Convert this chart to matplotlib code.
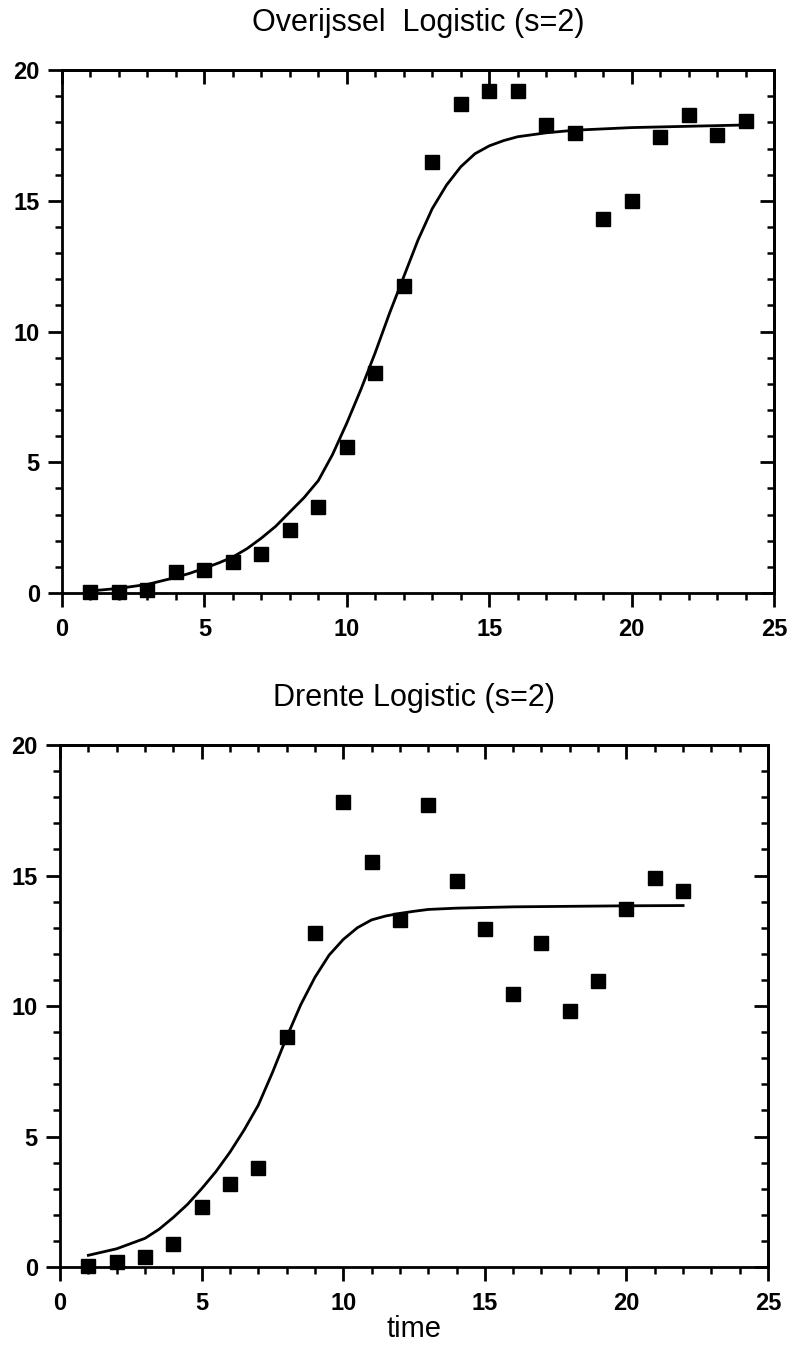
import matplotlib
matplotlib.use("Agg")
import matplotlib.pyplot as plt
from matplotlib.ticker import MultipleLocator

plt.rcParams['font.family'] = ['Liberation Sans', 'DejaVu Sans']

# ---- Overijssel data ----
ov_t = list(range(1, 25))
ov_y = [0.05, 0.05, 0.1, 0.8, 0.9, 1.2, 1.5, 2.4, 3.3, 5.6, 8.4, 11.75,
        16.5, 18.7, 19.2, 19.2, 17.9, 17.6, 14.3, 15.0, 17.45, 18.3, 17.5, 18.05]
ov_fit_t = [1, 2, 3, 4, 4.5, 5, 5.5, 6, 6.5, 7, 7.5, 8, 8.5, 9, 9.5, 10, 10.5,
            11, 11.5, 12, 12.5, 13, 13.5, 14, 14.5, 15, 15.5, 16, 17, 18, 20, 22, 24]
ov_fit_y = [0.08, 0.18, 0.33, 0.6, 0.76, 0.95, 1.15, 1.38, 1.7, 2.1, 2.55, 3.1,
            3.65, 4.3, 5.3, 6.5, 7.8, 9.2, 10.7, 12.1, 13.5, 14.7, 15.6, 16.3,
            16.8, 17.1, 17.3, 17.45, 17.6, 17.7, 17.8, 17.85, 17.9]

# ---- Drente data ----
dr_t = list(range(1, 23))
dr_y = [0.05, 0.2, 0.4, 0.9, 2.3, 3.2, 3.8, 8.8, 12.8, 17.8, 15.5, 13.3,
        17.7, 14.8, 12.95, 10.45, 12.4, 9.8, 10.95, 13.7, 14.9, 14.4]
dr_fit_t = [1, 2, 3, 3.5, 4, 4.5, 5, 5.5, 6, 6.5, 7, 7.5, 8, 8.5, 9, 9.5, 10,
            10.5, 11, 11.5, 12, 12.5, 13, 14, 16, 18, 20, 22]
dr_fit_y = [0.45, 0.7, 1.1, 1.45, 1.9, 2.4, 3.0, 3.65, 4.4, 5.25, 6.2, 7.45,
            8.8, 10.05, 11.1, 11.95, 12.55, 13.0, 13.3, 13.45, 13.55, 13.63,
            13.7, 13.75, 13.8, 13.82, 13.84, 13.85]

titles = ["Overijssel  Logistic (s=2)", "Drente Logistic (s=2)"]
xticks = [0, 5, 10, 15, 20, 25]
yticks = [0, 5, 10, 15, 20]

fig = plt.figure(figsize=(7.95, 13.63), dpi=100)
ax1 = fig.add_axes([0.078, 0.5649, 0.8956, 0.3837])
ax2 = fig.add_axes([0.0755, 0.0704, 0.8906, 0.383])

def style(ax, title):
    ax.set_xlim(0, 25)
    ax.set_ylim(0, 20)
    ax.set_xticks(xticks)
    ax.set_yticks(yticks)
    ax.set_xticklabels([str(v) for v in xticks], fontweight='bold', fontsize=17)
    ax.set_yticklabels([str(v) for v in yticks], fontweight='bold', fontsize=17)
    ax.xaxis.set_minor_locator(MultipleLocator(1))
    ax.yaxis.set_minor_locator(MultipleLocator(1))
    ax.tick_params(which='major', direction='out', length=10, width=2, pad=6)
    ax.tick_params(which='minor', direction='out', length=5, width=1.8)
    ax.tick_params(axis='x', which='major', pad=8)
    for s in ax.spines.values():
        s.set_linewidth(2)
    ax.set_title(title, fontsize=22, pad=28)
    # inward ticks on top and right
    top = ax.secondary_xaxis('top')
    top.set_xticks(xticks)
    top.xaxis.set_minor_locator(MultipleLocator(1))
    top.tick_params(which='major', direction='in', length=10, width=2, labeltop=False)
    top.tick_params(which='minor', direction='in', length=5, width=1.8)
    top.spines['top'].set_linewidth(2)
    right = ax.secondary_yaxis('right')
    right.set_yticks(yticks)
    right.yaxis.set_minor_locator(MultipleLocator(1))
    right.tick_params(which='major', direction='in', length=10, width=2, labelright=False)
    right.tick_params(which='minor', direction='in', length=5, width=1.8)
    right.spines['right'].set_linewidth(2)

style(ax1, titles[0])
style(ax2, titles[1])

ax1.plot(ov_fit_t, ov_fit_y, color='black', lw=2)
ax1.plot(ov_t, ov_y, 's', color='black', ms=10.5, clip_on=False)
ax2.plot(dr_fit_t, dr_fit_y, color='black', lw=2)
ax2.plot(dr_t, dr_y, 's', color='black', ms=10.5, clip_on=False)
ax2.set_xlabel("time", fontsize=21, labelpad=0)

fig.savefig("out.png", dpi=100)
